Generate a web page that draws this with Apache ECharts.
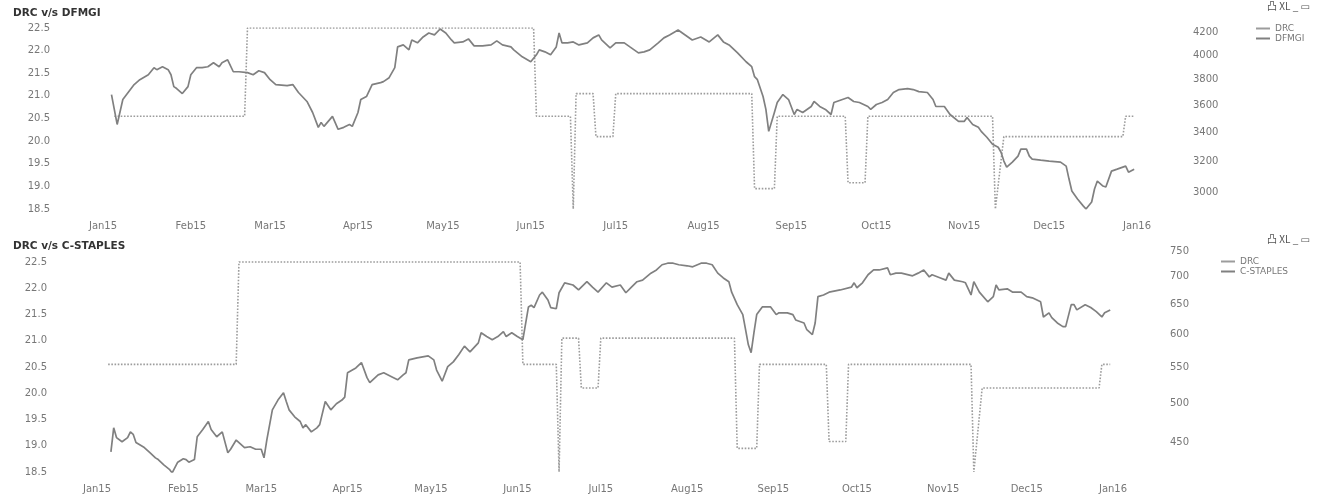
<!DOCTYPE html>
<html>
<head>
<meta charset="utf-8">
<script src="https://cdn.jsdelivr.net/npm/echarts@6/dist/echarts.min.js"></script>
<style>
html,body{margin:0;padding:0;background:#fff;}
#chart{width:1328px;height:501px;}
</style>
</head>
<body>
<div id="chart"></div>
<script>
// ---- DATA (day offsets are days after 2015-01-01) ----
const drcDays   = [4, 50, 51, 152, 153, 165, 166, 167, 173, 174, 180, 181, 229, 230, 237, 238, 262, 263, 269, 270, 314, 315, 318, 360, 361, 364];
const drcValues = [20.55, 20.55, 22.5, 22.5, 20.55, 20.55, 18.5, 21.05, 21.05, 20.1, 20.1, 21.05, 21.05, 18.95, 18.95, 20.55, 20.55, 19.08, 19.08, 20.55, 20.55, 18.5, 20.1, 20.1, 20.55, 20.55];

const dfmgiDays = [3,5,7,11,13,16,18,19,21,23,24,25,26,28,30,31,33,35,37,39,41,42,44,46,48,51,53,55,57,59,61,65,67,69,72,74,76,77,78,81,83,85,87,88,90,91,93,95,98,99,101,103,104,106,108,109,111,113,115,117,119,121,123,124,127,129,131,134,137,139,141,144,145,148,151,153,154,156,158,160,161,162,164,166,168,171,173,175,176,179,181,184,186,189,191,193,196,198,200,203,208,211,214,217,219,221,224,227,229,230,231,233,234,235,237,238,240,242,244,245,247,250,251,253,255,257,258,261,263,265,267,270,271,273,275,277,279,281,284,286,288,291,293,294,297,299,302,304,305,307,309,310,312,314,316,317,318,319,321,323,324,326,327,328,331,334,338,340,341,342,344,346,347,349,350,351,353,354,356,358,361,362,364];
const dfmgiValues = [3682,3458,3644,3760,3799,3839,3896,3880,3904,3880,3839,3744,3729,3690,3744,3839,3896,3896,3904,3937,3904,3937,3961,3863,3863,3856,3839,3871,3856,3799,3760,3752,3760,3698,3629,3546,3437,3473,3444,3517,3423,3437,3458,3444,3546,3644,3667,3760,3776,3784,3815,3896,4070,4087,4045,4130,4105,4156,4191,4174,4226,4191,4130,4105,4113,4139,4079,4079,4087,4122,4087,4070,4045,3986,3945,4003,4045,4028,4003,4070,4191,4105,4105,4113,4087,4105,4148,4174,4130,4062,4105,4105,4070,4019,4028,4045,4105,4148,4174,4217,4130,4156,4113,4174,4113,4087,4019,3945,3904,3823,3799,3667,3569,3408,3546,3621,3682,3644,3531,3569,3546,3591,3629,3591,3569,3531,3621,3644,3659,3629,3621,3591,3569,3606,3621,3644,3698,3721,3729,3721,3705,3698,3644,3591,3591,3531,3480,3480,3509,3458,3437,3408,3366,3317,3296,3262,3202,3161,3195,3235,3283,3283,3235,3215,3208,3202,3195,3168,3083,3007,2957,2914,2895,2938,3019,3070,3038,3032,3135,3148,3168,3128,3148];

const staplesDays = [5,6,7,9,11,12,13,14,17,19,21,22,24,26,27,29,31,32,33,35,36,38,40,41,43,45,47,48,50,51,53,55,57,59,60,61,63,65,67,68,69,71,73,74,75,77,79,80,82,84,86,88,89,90,93,95,97,98,101,103,106,108,110,111,112,115,119,121,122,124,126,128,130,132,134,137,138,140,142,144,146,147,149,151,153,155,156,157,159,160,162,163,165,166,168,171,173,176,178,180,183,185,188,190,192,194,196,199,201,203,205,207,209,212,214,217,219,221,223,225,227,228,230,232,233,234,235,236,237,239,242,244,245,248,250,251,254,255,257,258,259,261,263,267,271,272,273,275,277,279,281,284,285,287,289,293,295,297,299,300,303,305,306,308,311,312,314,315,317,320,322,323,324,327,329,332,334,336,339,340,342,343,345,347,348,350,351,352,355,357,359,361,362,364];
const staplesValues = [439,468,456,451,456,463,460,450,444,438,432,430,424,419,415,427,431,430,427,430,457,466,476,466,457,463,438,442,453,450,444,445,442,442,432,453,491,504,514,502,491,482,476,468,472,463,468,472,502,491,499,504,508,542,549,557,535,528,539,542,536,532,539,542,561,564,567,561,546,530,551,558,569,582,573,587,603,597,592,597,605,597,603,597,592,646,649,645,667,672,658,645,643,671,689,685,676,691,681,672,689,681,685,671,681,691,694,707,713,723,726,726,723,721,719,726,726,723,707,698,691,672,650,633,608,584,572,603,633,646,646,633,636,636,633,624,619,608,600,619,664,667,672,676,681,689,680,689,704,713,713,717,704,707,707,702,707,713,700,704,698,694,707,694,691,689,667,691,672,655,664,685,676,678,672,672,664,662,655,629,636,628,619,613,613,650,650,641,650,645,638,629,636,641];

const drcTicks = [18.5, 19, 19.5, 20, 20.5, 21, 21.5, 22, 22.5];
const dfmgiTicks = [3000, 3200, 3400, 3600, 3800, 4000, 4200];
const staplesTicks = [450, 500, 550, 600, 650, 700, 750];
const monthTicks = ['2015-01-01','2015-02-01','2015-03-01','2015-04-01','2015-05-01','2015-06-01','2015-07-01','2015-08-01','2015-09-01','2015-10-01','2015-11-01','2015-12-01','2016-01-01'];
const monthLabels = ['Jan15','Feb15','Mar15','Apr15','May15','Jun15','Jul15','Aug15','Sep15','Oct15','Nov15','Dec15','Jan16'];

// ---- BUILD ----
const DAY = 86400000;
const base = Date.UTC(2015, 0, 1);
const toPairs = (days, vals) => days.map((d, i) => [base + d * DAY, vals[i]]);
const monthTimes = monthTicks.map(s => Date.parse(s + 'T00:00:00Z'));
const monthFmt = v => {
  let best = 0;
  monthTimes.forEach((t, i) => { if (Math.abs(t - v) < Math.abs(monthTimes[best] - v)) best = i; });
  return monthLabels[best];
};

const labelFont = { fontFamily: 'DejaVu Sans', fontSize: 10, color: '#777' };
const hide = { show: false };

function xAxis(grid) {
  return {
    type: 'value', gridIndex: grid,
    min: monthTimes[0], max: monthTimes[monthTimes.length - 1],
    axisLine: hide, axisTick: hide, splitLine: hide,
    axisLabel: Object.assign({ customValues: monthTimes, formatter: monthFmt, margin: 12 }, labelFont)
  };
}

const chart = echarts.init(document.getElementById('chart'), null, { renderer: 'canvas' });
chart.setOption({
  animation: false,
  backgroundColor: '#fff',
  title: [
    { text: 'DRC v/s DFMGI', left: 8, top: 3, textStyle: { fontFamily: 'DejaVu Sans', fontSize: 10.5, fontWeight: 'bold', color: '#333' } },
    { text: 'DRC v/s C-STAPLES', left: 8, top: 236, textStyle: { fontFamily: 'DejaVu Sans', fontSize: 10.5, fontWeight: 'bold', color: '#333' } }
  ],
  legend: [
    { data: ['DRC', 'DFMGI'], orient: 'vertical', left: 1251, top: 19, itemWidth: 14, itemHeight: 2, itemGap: 1, icon: 'rect',
      textStyle: { fontFamily: 'DejaVu Sans', fontSize: 9, color: '#777', lineHeight: 9 } },
    { data: ['DRC', 'C-STAPLES'], orient: 'vertical', left: 1216, top: 252, itemWidth: 14, itemHeight: 2, itemGap: 1, icon: 'rect',
      textStyle: { fontFamily: 'DejaVu Sans', fontSize: 9, color: '#777', lineHeight: 9 } }
  ],
  graphic: [
    { type: 'text', left: 1267, top: 1, style: { text: '凸 XL _ ▭', font: '10px "Noto Sans CJK SC", "DejaVu Sans"', fill: '#555' } },
    { type: 'text', left: 1267, top: 234, style: { text: '凸 XL _ ▭', font: '10px "Noto Sans CJK SC", "DejaVu Sans"', fill: '#555' } }
  ],
  grid: [
    { left: 103, right: 191, top: 28, height: 181 },
    { left: 97, right: 215, top: 251, height: 221 }
  ],
  xAxis: [xAxis(0), xAxis(1)],
  yAxis: [
    { type: 'value', gridIndex: 0, position: 'left', min: 18.5, max: 22.5,
      axisLine: hide, axisTick: hide, splitLine: hide,
      axisLabel: Object.assign({ customValues: drcTicks, formatter: v => v.toFixed(1), margin: 53 }, labelFont) },
    { type: 'log', gridIndex: 0, position: 'right', min: 2895, max: 4235,
      axisLine: hide, axisTick: hide, splitLine: hide, minorSplitLine: hide,
      axisLabel: Object.assign({ customValues: dfmgiTicks, formatter: v => String(Math.round(v)), margin: 56 }, labelFont) },
    { type: 'value', gridIndex: 1, position: 'left', min: 18.5, max: 22.71,
      axisLine: hide, axisTick: hide, splitLine: hide,
      axisLabel: Object.assign({ customValues: drcTicks, formatter: v => v.toFixed(1), margin: 50 }, labelFont) },
    { type: 'log', gridIndex: 1, position: 'right', min: 416, max: 750,
      axisLine: hide, axisTick: hide, splitLine: hide, minorSplitLine: hide,
      axisLabel: Object.assign({ customValues: staplesTicks, formatter: v => String(Math.round(v)), margin: 57 }, labelFont) }
  ],
  series: [
    { name: 'DRC', type: 'line', xAxisIndex: 0, yAxisIndex: 0, data: toPairs(drcDays, drcValues), showSymbol: false,
      lineStyle: { color: '#9c9c9c', width: 1.6, type: 'dotted' }, itemStyle: { color: '#9c9c9c' }, z: 2 },
    { name: 'DFMGI', type: 'line', xAxisIndex: 0, yAxisIndex: 1, data: toPairs(dfmgiDays, dfmgiValues), showSymbol: false,
      lineStyle: { color: '#808080', width: 1.7 }, itemStyle: { color: '#808080' }, z: 3 },
    { name: 'DRC', type: 'line', xAxisIndex: 1, yAxisIndex: 2, data: toPairs(drcDays, drcValues), showSymbol: false,
      lineStyle: { color: '#9c9c9c', width: 1.6, type: 'dotted' }, itemStyle: { color: '#9c9c9c' }, z: 2 },
    { name: 'C-STAPLES', type: 'line', xAxisIndex: 1, yAxisIndex: 3, data: toPairs(staplesDays, staplesValues), showSymbol: false,
      lineStyle: { color: '#808080', width: 1.7 }, itemStyle: { color: '#808080' }, z: 3 }
  ]
});
</script>
</body>
</html>
